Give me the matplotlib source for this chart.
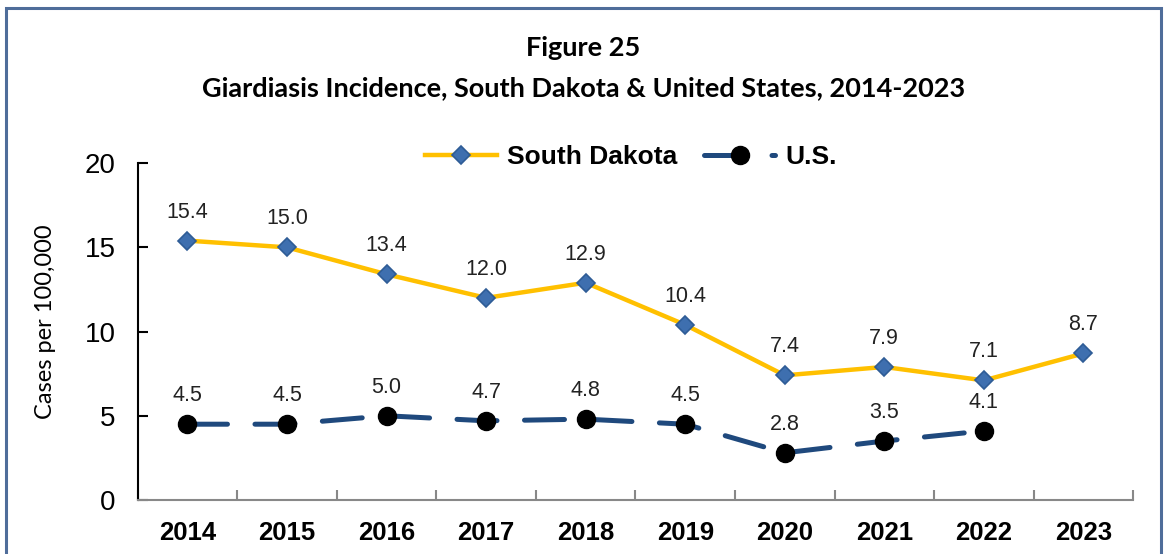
import matplotlib.pyplot as plt
from matplotlib.patches import Rectangle
from matplotlib.ticker import MultipleLocator, FixedLocator

years = ['2014', '2015', '2016', '2017', '2018', '2019', '2020', '2021', '2022', '2023']
sd_rates = [15.4, 15.0, 13.4, 12.0, 12.9, 10.4, 7.4, 7.9, 7.1, 8.7]
us_rates = [4.5, 4.5, 5.0, 4.7, 4.8, 4.5, 2.8, 3.5, 4.1]

fig = plt.figure(figsize=(11.67, 5.54), dpi=100)
ax = fig.add_axes([0.118, 0.0975, 0.853, 0.608])

# frame around the whole chart
fig.patches.append(Rectangle((0.005, -0.05), 0.99, 1.036, transform=fig.transFigure,
                             fill=False, ec='#4F6D9A', lw=2.2))

x = list(range(len(years)))
ax.plot(x, sd_rates, color='#FFC000', lw=3.2, marker='D', ms=9,
        mfc='#3E6FAF', mec='#2E5C96', mew=1.2, label='South Dakota', zorder=3)
ax.plot(x[:len(us_rates)], us_rates, color='#1F497D', lw=3.6, ls=(0, (8, 5.5)),
        dash_capstyle='round', marker='o', ms=13, mfc='black', mec='black',
        label='U.S.', zorder=3)

for xi, v in zip(x, sd_rates):
    ax.annotate(f'{v:.1f}', (xi, v), xytext=(0, 13), textcoords='offset points',
                ha='center', va='bottom', fontsize=15.5, family='Liberation Sans', color='#222222')
for xi, v in zip(x, us_rates):
    ax.annotate(f'{v:.1f}', (xi, v), xytext=(0, 13), textcoords='offset points',
                ha='center', va='bottom', fontsize=15.5, family='Liberation Sans', color='#222222')

ax.set_xlim(-0.5, len(years) - 0.5)
ax.set_ylim(0, 20)
ax.yaxis.set_major_locator(MultipleLocator(5))
ax.set_xticks(x)
ax.set_xticklabels(years, fontsize=18.5, fontweight='bold', family='Liberation Sans')
ax.xaxis.set_minor_locator(FixedLocator([i + 0.5 for i in range(-1, len(years))]))
ax.tick_params(axis='x', which='major', length=0, pad=15)
ax.tick_params(axis='x', which='minor', direction='in', length=7, width=1.5, color='#888888')
ax.tick_params(axis='y', direction='in', length=7, width=1.5, pad=16)
for lab in ax.get_yticklabels():
    lab.set_fontsize(20)
    lab.set_family('Liberation Sans')

ax.spines['top'].set_visible(False)
ax.spines['right'].set_visible(False)
ax.spines['left'].set_linewidth(1.5)
ax.spines['bottom'].set_linewidth(1.5)
ax.spines['bottom'].set_color('#888888')

fig.text(0.0386, 0.419, 'Cases per 100,000', rotation=90, ha='center', va='center',
         fontsize=17, family='Lato')

fig.text(0.5, 0.913, 'Figure 25', ha='center', va='center', fontsize=19.5,
         fontweight='bold', family='Lato')
fig.text(0.5, 0.84, 'Giardiasis Incidence, South Dakota & United States, 2014-2023',
         ha='center', va='center', fontsize=19.5, fontweight='bold', family='Lato')

ax.legend(loc='center', bbox_to_anchor=(0.541, 0.716), bbox_transform=fig.transFigure,
          ncol=2, frameon=False, handlelength=2.7, columnspacing=1.0, handletextpad=0.4,
          prop={'family': 'Liberation Sans', 'weight': 'bold', 'size': 19})

fig.savefig('out.png', dpi=100)
